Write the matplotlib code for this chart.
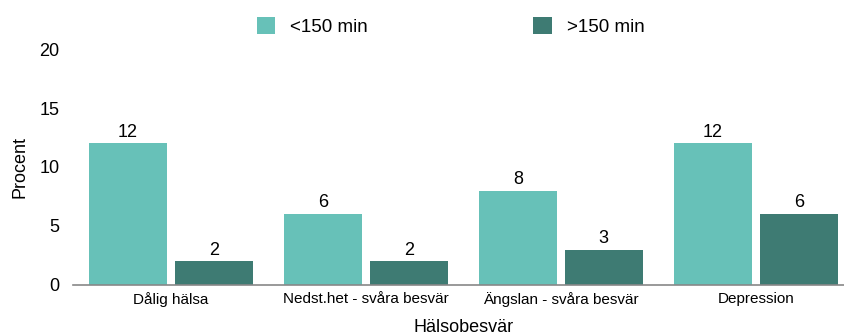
import matplotlib.pyplot as plt
import numpy as np

plt.rcParams["font.family"] = ["Liberation Sans", "DejaVu Sans"]

categories = ["Dålig hälsa", "Nedst.het - svåra besvär", "Ängslan - svåra besvär", "Depression"]
under_150 = [12, 6, 8, 12]
over_150 = [2, 2, 3, 6]
series_labels = ["<150 min", ">150 min"]

light = "#67c1b8"
dark = "#3e7b73"

fig = plt.figure(figsize=(8.44, 3.36), dpi=100)
# axes run a little past the right edge of the figure
ax = fig.add_axes([0.087, 0.152, 0.924, 0.702])

x = np.arange(len(categories))
w = 0.40
b1 = ax.bar(x - 0.22, under_150, w, color=light, label=series_labels[0])
b2 = ax.bar(x + 0.22, over_150, w, color=dark, label=series_labels[1])

for bars in (b1, b2):
    ax.bar_label(bars, padding=2, fontsize=13)

ax.set_xlim(-0.5, len(categories) - 0.5)
ax.set_ylim(0, 20)
ax.set_yticks([0, 5, 10, 15, 20])
ax.set_xticks(x)
ax.set_xticklabels(categories)
ax.tick_params(axis="y", length=0, pad=10, labelsize=13)
ax.tick_params(axis="x", length=0, pad=5, labelsize=11)

for side in ("top", "right", "left"):
    ax.spines[side].set_visible(False)
ax.spines["bottom"].set_color("#888888")
ax.spines["bottom"].set_linewidth(1.2)

ax.set_ylabel("Procent", fontsize=13, labelpad=8)
ax.set_xlabel("Hälsobesvär", fontsize=13, labelpad=9)

fig.legend(loc="upper center", bbox_to_anchor=(0.534, 1.0), ncol=2, frameon=False,
           fontsize=13.5, handlelength=1.0, handleheight=1.0, columnspacing=8.8,
           handletextpad=0.8)

fig.savefig("out.png", dpi=100)
